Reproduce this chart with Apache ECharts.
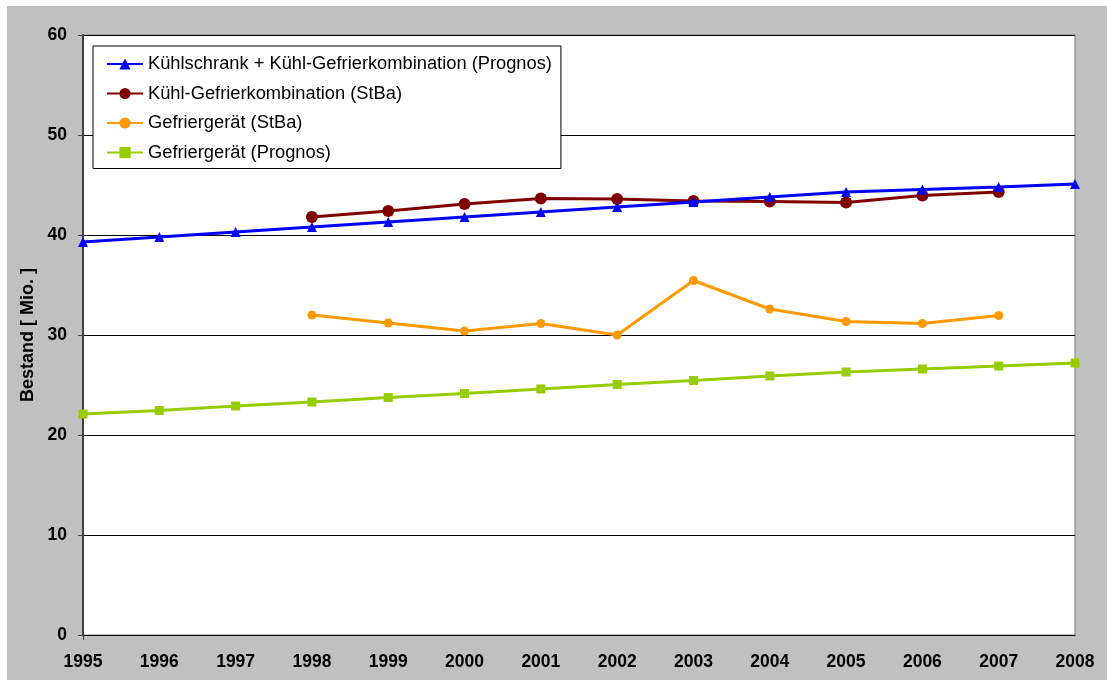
<!DOCTYPE html>
<html>
<head>
<meta charset="utf-8">
<script src="https://cdn.jsdelivr.net/npm/echarts@6/dist/echarts.min.js"></script>
<style>
  html, body { margin: 0; padding: 0; background: #fff; }
  #chart { width: 1107px; height: 680px; }
</style>
</head>
<body>
<div id="chart"></div>
<script>
const years = ['1995', '1996', '1997', '1998', '1999', '2000', '2001', '2002', '2003', '2004', '2005', '2006', '2007', '2008']
// Kühlschrank + Kühl-Gefrierkombination (Prognos)
const kuehlPrognos = [39.3, 39.8, 40.3, 40.8, 41.3, 41.8, 42.3, 42.8, 43.3, 43.8, 44.3, 44.55, 44.8, 45.1]
// Kühl-Gefrierkombination (StBa)
const kuehlStba = [null, null, null, 41.8, 42.4, 43.1, 43.65, 43.6, 43.4, 43.35, 43.25, 43.95, 44.3, null]
// Gefriergerät (StBa)
const gefrierStba = [null, null, null, 32.0, 31.2, 30.4, 31.15, 30.0, 35.45, 32.6, 31.35, 31.15, 31.95, null]
// Gefriergerät (Prognos)
const gefrierPrognos = [22.1, 22.45, 22.9, 23.3, 23.75, 24.15, 24.6, 25.05, 25.45, 25.9, 26.3, 26.6, 26.9, 27.2]

const font = 'Arial, "Liberation Sans", sans-serif'
const myChart = echarts.init(document.getElementById('chart'))

const options = {
  animation: false,
  backgroundColor: '#fff',
  graphic: [{
    type: 'rect',
    z: -10,
    shape: { x: 7, y: 6, width: 1100, height: 674 },
    style: { fill: '#C0C0C0' }
  }],
  grid: {
    left: 83,
    right: 32,
    top: 35,
    bottom: 45,
    show: true,
    backgroundColor: '#fff',
    borderColor: '#808080',
    borderWidth: 1
  },
  legend: {
    orient: 'vertical',
    left: 93,
    top: 46,
    backgroundColor: '#fff',
    borderColor: '#000',
    borderWidth: 1,
    padding: [9, 9, 7, 13],
    itemWidth: 36,
    itemHeight: 14,
    itemGap: 11.5,
    textStyle: { fontFamily: font, fontSize: 18.3, lineHeight: 18, color: '#000' },
    data: [
      'Kühlschrank + Kühl-Gefrierkombination (Prognos)',
      'Kühl-Gefrierkombination (StBa)',
      'Gefriergerät (StBa)',
      'Gefriergerät (Prognos)'
    ]
  },
  xAxis: {
    type: 'category',
    boundaryGap: false,
    data: years,
    axisLine: { lineStyle: { color: '#000', width: 1 } },
    axisTick: { show: true, length: 5, interval: (i) => i === 0, lineStyle: { color: '#404040' } },
    axisLabel: { color: '#000', fontFamily: font, fontSize: 17.5, fontWeight: 'bold', margin: 18 },
    splitLine: { show: false }
  },
  yAxis: {
    type: 'value',
    min: 0,
    max: 60,
    interval: 10,
    name: 'Bestand [ Mio. ]',
    nameLocation: 'middle',
    nameGap: 45,
    nameTextStyle: { color: '#000', fontFamily: font, fontSize: 18, fontWeight: 'bold' },
    axisLine: { show: true, lineStyle: { color: '#404040', width: 2 } },
    axisTick: { show: true, length: 5, lineStyle: { color: '#404040' } },
    axisLabel: { color: '#000', fontFamily: font, fontSize: 17.5, fontWeight: 'bold', margin: 16 },
    splitLine: { lineStyle: { color: '#000', width: 1 } }
  },
  series: [{
    name: 'Kühlschrank + Kühl-Gefrierkombination (Prognos)',
    type: 'line',
    data: kuehlPrognos,
    symbol: 'triangle',
    symbolSize: 10,
    color: '#0000FF',
    lineStyle: { width: 3 },
    z: 4
  }, {
    name: 'Kühl-Gefrierkombination (StBa)',
    type: 'line',
    data: kuehlStba,
    symbol: 'circle',
    symbolSize: 12,
    color: '#800000',
    lineStyle: { width: 3 },
    z: 3
  }, {
    name: 'Gefriergerät (StBa)',
    type: 'line',
    data: gefrierStba,
    symbol: 'circle',
    symbolSize: 9,
    color: '#FF9900',
    lineStyle: { width: 3 },
    z: 3
  }, {
    name: 'Gefriergerät (Prognos)',
    type: 'line',
    data: gefrierPrognos,
    symbol: 'rect',
    symbolSize: 9,
    color: '#99CC00',
    lineStyle: { width: 3 },
    z: 3
  }]
}

myChart.setOption(options)
</script>
</body>
</html>
